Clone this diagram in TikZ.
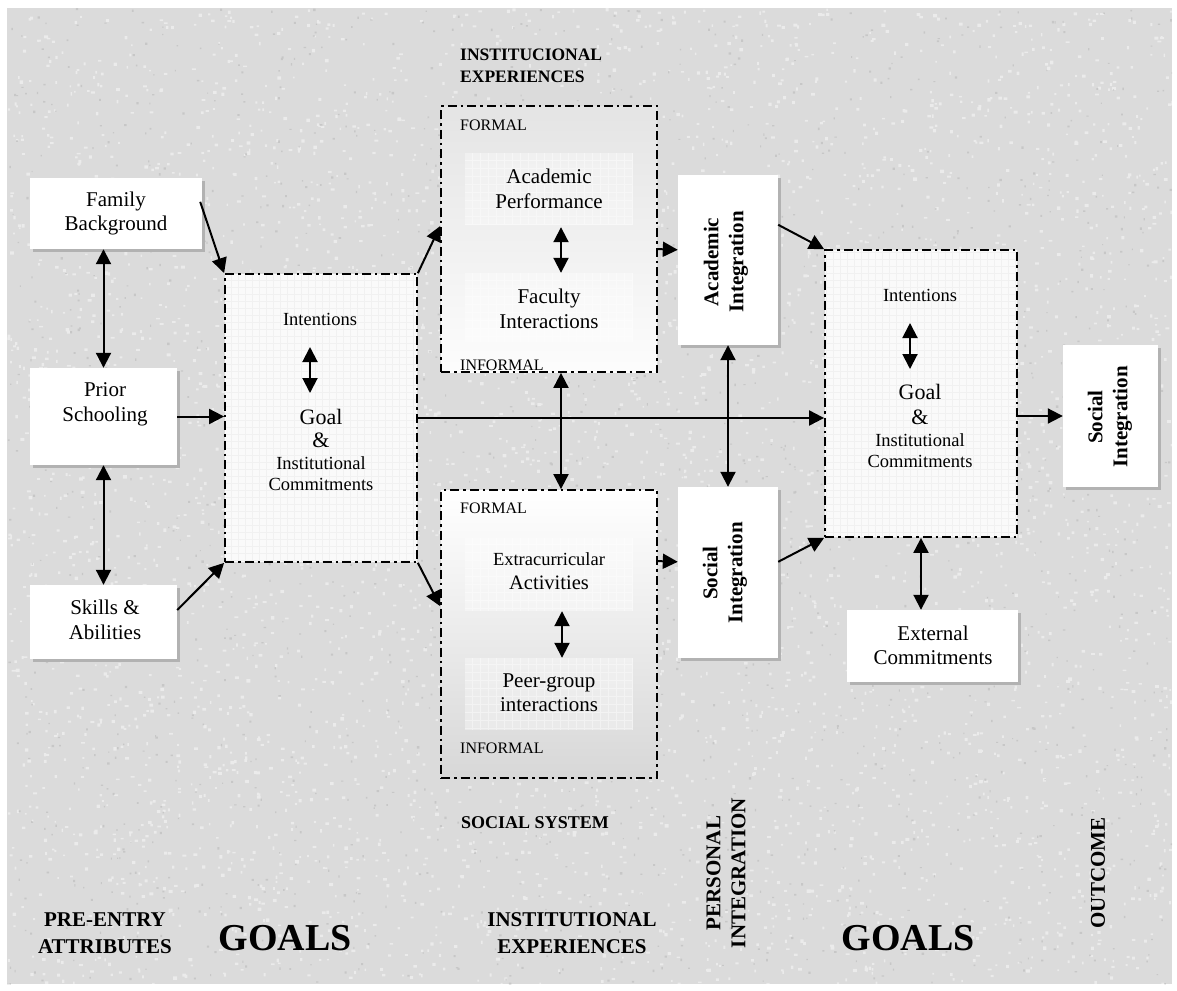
\documentclass[tikz,border=0pt]{standalone}
\usepackage{fontspec}
\setmainfont{Liberation Serif}
\usetikzlibrary{arrows.meta,calc,shadows,fit}
\newcommand\fsz[2]{\fontsize{#1}{#2}\selectfont}
\definecolor{bgc}{RGB}{219,219,219}
\begin{document}
\begin{tikzpicture}[x=1pt,y=-1pt,
  tip/.tip={Triangle[length=15pt,width=15pt]},
  conn/.style={line width=2pt,-tip},
  dconn/.style={line width=2pt,tip-tip},
  wbox/.style={draw=none,fill=white,inner sep=0pt,
     drop shadow={shadow xshift=3pt,shadow yshift=-3pt,fill=gray!60,opacity=1}},
  dbox/.style={draw=black,line width=1.8pt,dash pattern=on 9pt off 4pt on 2.5pt off 4pt,inner sep=0pt},
  ibox/.style={draw=none,fill=white,fill opacity=.35,inner sep=0pt},
  txt/.style={align=center,inner sep=0pt},
  ttl/.style={align=center,inner sep=0pt,font=\bfseries\fsz{21}{27}},
]
\useasboundingbox (0,0) rectangle (1177,990);
\fill[white] (0,0) rectangle (1177,990);
\fill[bgc] (7,8) rectangle (1172,984);
% fine granite-like speckle of the background
\pgfmathsetseed{4242}
\begin{scope}
\clip (7,8) rectangle (1172,984);
\fill[white,opacity=.45] \foreach \i in {1,...,4500}{
  ({7+1165*rnd},{8+976*rnd}) rectangle +({1.5+2.5*rnd},{1.5+2*rnd}) };
\fill[gray,opacity=.22] \foreach \i in {1,...,1800}{
  ({7+1165*rnd},{8+976*rnd}) rectangle +({1+1.5*rnd},{1+1.5*rnd}) };
\end{scope}

% white boxes
\node[wbox,fit={(30,178)(202,249)}] (fam) {};
\node[wbox,fit={(30,368)(177,465)}] (prior) {};
\node[wbox,fit={(30,585)(177,659)}] (skills) {};
\node[wbox,fit={(678,175)(778,345)}] (acint) {};
\node[wbox,fit={(678,487)(778,658)}] (socint) {};
\node[wbox,fit={(1063,345)(1158,487)}] (outint) {};
\node[wbox,fit={(847,610)(1018,682)}] (ext) {};

% goal boxes
\fill[gray!4] (225,274) rectangle (417,562);
\draw[gray!11,line width=.4pt,step=7pt] (225,274) grid (417,562);
\node[dbox,fit={(225,274)(417,562)}] (goal1) {};
\fill[gray!4] (825,250) rectangle (1017,537);
\draw[gray!11,line width=.4pt,step=7pt] (825,250) grid (1017,537);
\node[dbox,fit={(825,250)(1017,537)}] (goal2) {};

% institutional boxes
\node[dbox,top color=gray!21,bottom color=gray!2,fit={(441,106)(657,372)}] (inst1) {};
\node[dbox,top color=white,bottom color=gray!31,fit={(441,490)(657,778)}] (inst2) {};

\node[ibox,fit={(465,153)(633,225)}] (acp) {};
\draw[white,opacity=.4,line width=.5pt,step=8pt] (465,153) grid (633,225);
\node[ibox,fit={(465,273)(633,342)}] (fac) {};
\draw[white,opacity=.4,line width=.5pt,step=8pt] (465,273) grid (633,342);
\node[ibox,fit={(465,538)(633,611)}] (ecx) {};
\draw[white,opacity=.4,line width=.5pt,step=8pt] (465,538) grid (633,611);
\node[ibox,fit={(465,658)(633,730)}] (peer) {};
\draw[white,opacity=.4,line width=.5pt,step=8pt] (465,658) grid (633,730);

% texts in boxes
\node[txt,font=\fsz{21}{24}] (famt) at (116,213) {Family\\Background};
\node[txt,font=\fsz{21}{25}] (priort) at (105,404) {Prior\\Schooling};
\node[txt,font=\fsz{21}{25}] (skillst) at (105,620) {Skills \&\\Abilities};
\node[txt,font=\fsz{21}{24}] (extt) at (933,645) {External\\Commitments};

\node[txt,font=\fsz{18.5}{21}] (int1) at (320,319) {Intentions};
\node[txt,font=\fsz{22}{23}] (gl1) at (321,428) {Goal\\\&};
\node[txt,font=\fsz{18.5}{21}] (ic1) at (321,474) {Institutional\\Commitments};
\coordinate (g1a) at (310,347);
\coordinate (g1b) at (310,393);

\node[txt,font=\fsz{18.5}{21}] (int2) at (920,295) {Intentions};
\node[txt,font=\fsz{22}{25}] (gl2) at (920,404) {Goal\\\&};
\node[txt,font=\fsz{18.5}{21}] (ic2) at (920,451) {Institutional\\Commitments};
\coordinate (g2a) at (910,323);
\coordinate (g2b) at (910,369);

\node[inner sep=0pt,anchor=west,font=\fsz{16}{18}] (f1) at (460,125) {FORMAL};
\node[inner sep=0pt,anchor=west,font=\fsz{16}{18}] (i1) at (460,365) {INFORMAL};
\node[inner sep=0pt,anchor=west,font=\fsz{16}{18}] (f2) at (460,508) {FORMAL};
\node[inner sep=0pt,anchor=west,font=\fsz{16}{18}] (i2) at (460,748) {INFORMAL};

\node[txt,font=\fsz{21}{25}] (acpt) at (549,189) {Academic\\Performance};
\node[txt,font=\fsz{21}{25}] (fact) at (549,309) {Faculty\\Interactions};
\node[txt,font=\fsz{18.5}{20}] (ecxt) at (549,559) {Extracurricular};
\node[txt,font=\fsz{20.5}{22}] (actt) at (549,583) {Activities};
\node[txt,font=\fsz{21}{24}] (peert) at (549,693) {Peer-group\\interactions};

\node[txt,rotate=90,font=\bfseries\fsz{21}{25}] (acintt) at (726,262) {Academic\\Integration};
\node[txt,rotate=90,font=\bfseries\fsz{21}{25}] (socintt) at (725,573) {Social\\Integration};
\node[txt,rotate=90,font=\bfseries\fsz{21}{25}] (outintt) at (1110,417) {Social\\Integration};

% titles
\node[inner sep=0pt,anchor=west,align=left,font=\bfseries\fsz{17.5}{22}] (insttop) at (460,66) {INSTITUCIONAL\\EXPERIENCES};
\node[inner sep=0pt,font=\bfseries\fsz{18}{20}] (socsys) at (535,823) {SOCIAL SYSTEM};
\node[ttl] (pre) at (105,933) {PRE-ENTRY\\ATTRIBUTES};
\node[inner sep=0pt,font=\bfseries\fsz{38}{40}] (goals1) at (285,938) {GOALS};
\node[ttl] (instexp) at (572,933) {INSTITUTIONAL\\EXPERIENCES};
\node[ttl,rotate=90,font=\bfseries\fsz{21}{25}] (pers) at (726,873) {PERSONAL\\INTEGRATION};
\node[inner sep=0pt,font=\bfseries\fsz{38}{40}] (goals2) at (908,938) {GOALS};
\node[ttl,rotate=90] (outc) at (1098,873) {OUTCOME};

% connectors
\draw[conn] ($(fam.north east)+(-2,24)$) -- (goal1.north west);
\draw[dconn] (prior.north) -- (prior.north |- fam.south);
\draw[dconn] (prior.south) -- (skills.north);
\draw[conn] (prior.east) -- (goal1.west |- prior.east);
\draw[conn] ($(skills.east)+(0,-12)$) -- (goal1.south west);
\draw[dconn] (g1a) -- (g1b);
\draw[conn] (goal1.north east) -- ($(inst1.north west)+(0,121)$);
\draw[conn] (goal1.south east) -- ($(inst2.north west)+(0,117)$);
\draw[conn] (goal1.east) -- (goal2.west |- goal1.east);
\draw[dconn] ($(acp.south)+(12,2)$) -- ($(fac.north)+(12,0)$);
\draw[dconn] ($(ecx.south)+(13,0)$) -- ($(peer.north)+(13,0)$);
\draw[dconn] ($(inst1.south)+(12,0)$) -- ($(inst2.north)+(12,0)$);
\draw[conn] ($(inst1.north east)+(0,144)$) -- ($(acint.north west)+(0,75)$);
\draw[conn] ($(inst2.north east)+(0,72)$) -- ($(socint.north west)+(0,75)$);
\draw[conn] ($(acint.north east)+(0,50)$) -- (goal2.north west);
\draw[dconn] (acint.south) -- (socint.north);
\draw[conn] ($(socint.north east)+(0,75)$) -- (goal2.south west);
\draw[dconn] (g2a) -- (g2b);
\draw[conn] (goal2.east |- outint.west) -- (outint.west);
\draw[dconn] (goal2.south) -- (goal2.south |- ext.north);
\end{tikzpicture}
\end{document}
